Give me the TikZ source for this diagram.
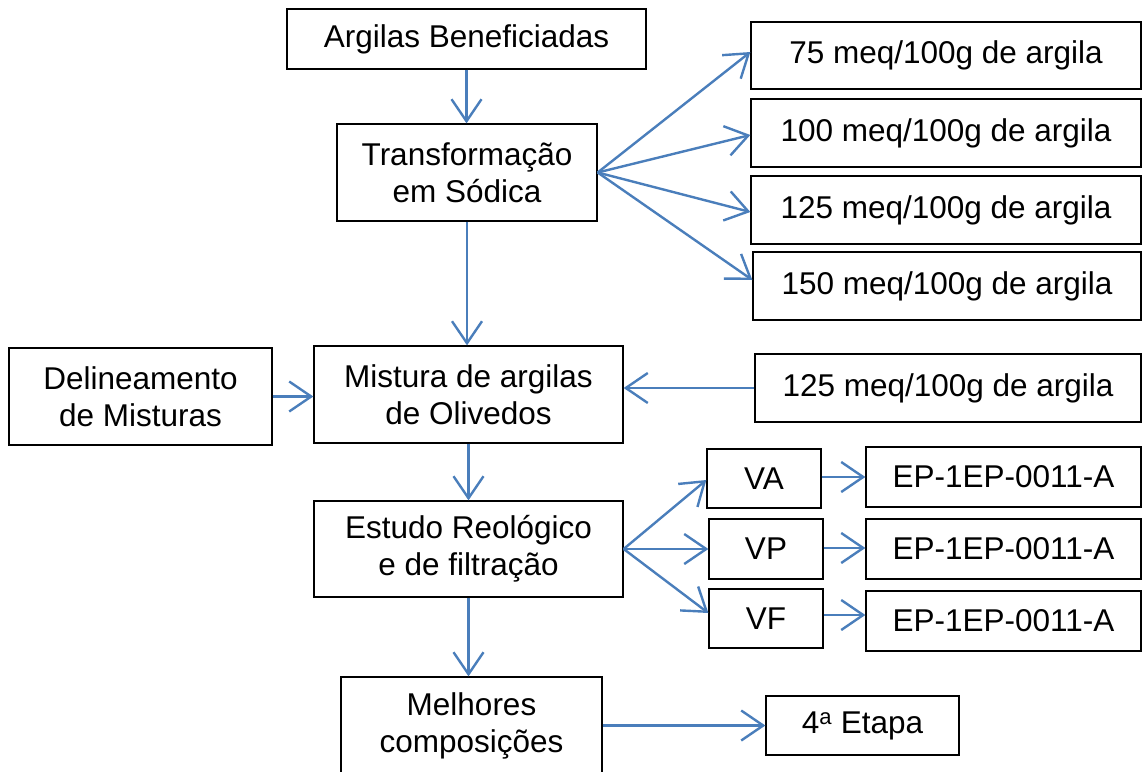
\documentclass[tikz,border=0pt]{standalone}
\usepackage{fontspec}
\setmainfont{Liberation Sans}
\usetikzlibrary{arrows.meta}
\definecolor{arrowblue}{HTML}{4A7EBB}
\begin{document}
\begin{tikzpicture}[x=1pt,y=-1pt,
  box/.style={draw=black, line width=1.3pt, inner sep=0pt, align=center,
    font=\fontsize{31.5}{37}\selectfont},
  conn/.style={draw=arrowblue, line width=2.4pt,
    -{Straight Barb[length=22pt,width=30pt]}}]
\useasboundingbox (0,0) rectangle (1143,771);
\node[box, minimum width=359pt, minimum height=60pt] (arg) at (466.5,39) {Argilas Beneficiadas};
\node[box, minimum width=260pt, minimum height=97pt] (trans) at (467,172.5) {Transformação\\em Sódica};
\node[box, minimum width=390pt, minimum height=67pt] (m75) at (946,55.5) {75 meq/100g de argila};
\node[box, minimum width=390pt, minimum height=68pt] (m100) at (946,133) {100 meq/100g de argila};
\node[box, minimum width=390pt, minimum height=68pt] (m125) at (946,210) {125 meq/100g de argila};
\node[box, minimum width=388pt, minimum height=68pt] (m150) at (947,286) {150 meq/100g de argila};
\node[box, minimum width=263pt, minimum height=97pt] (delin) at (140.5,396.5) {Delineamento\\de Misturas};
\node[box, minimum width=309pt, minimum height=97pt] (mist) at (468.5,394.5) {Mistura de argilas\\de Olivedos};
\node[box, minimum width=386pt, minimum height=68pt] (m125b) at (948,388) {125 meq/100g de argila};
\node[box, minimum width=309pt, minimum height=96pt] (est) at (468.5,549) {Estudo Reológico\\e de filtração};
\node[box, minimum width=114pt, minimum height=59pt] (va) at (764,478.5) {VA};
\node[box, minimum width=114pt, minimum height=60pt] (vp) at (766,549) {VP};
\node[box, minimum width=114pt, minimum height=59pt] (vf) at (766,618.5) {VF};
\node[box, minimum width=275pt, minimum height=60pt] (epa) at (1003.5,477) {EP-1EP-0011-A};
\node[box, minimum width=275pt, minimum height=60pt] (epp) at (1003.5,549) {EP-1EP-0011-A};
\node[box, minimum width=275pt, minimum height=60pt] (epf) at (1003.5,621) {EP-1EP-0011-A};
\node[box, minimum width=261pt, minimum height=97pt] (mel) at (471.5,725.5) {Melhores\\composições};
\node[box, minimum width=193pt, minimum height=59pt] (etapa) at (862.5,725.5) {4\textsuperscript{a} Etapa};
% connectors
\draw[conn] (arg.south) -- (arg.south |- trans.north);
\draw[conn] (trans.east) -- (m75.west |- {(0,52)});
\draw[conn] (trans.east) -- (m100.west |- {(0,135)});
\draw[conn] (trans.east) -- (m125.west |- {(0,212)});
\draw[conn] (trans.east) -- (m150.west |- {(0,280)});
\draw[conn] (trans.south) -- (trans.south |- mist.north);
\draw[conn] (delin.east) -- (mist.west |- delin.east);
\draw[conn] (m125b.west) -- (mist.east |- m125b.west);
\draw[conn] (mist.south) -- (est.north);
\draw[conn] (est.east) -- (va.west |- {(0,480)});
\draw[conn] (est.east) -- (vp.west);
\draw[conn] (est.east) -- (vf.west |- {(0,613)});
\draw[conn] (va.east |- {(0,477)}) -- (epa.west |- {(0,477)});
\draw[conn] (vp.east |- {(0,548)}) -- (epp.west |- {(0,548)});
\draw[conn] (vf.east |- {(0,615)}) -- (epf.west |- {(0,615)});
\draw[conn] (est.south) -- (mel.north -| est.south);
\draw[conn] (mel.east |- etapa.west) -- (etapa.west);
\end{tikzpicture}
\end{document}
